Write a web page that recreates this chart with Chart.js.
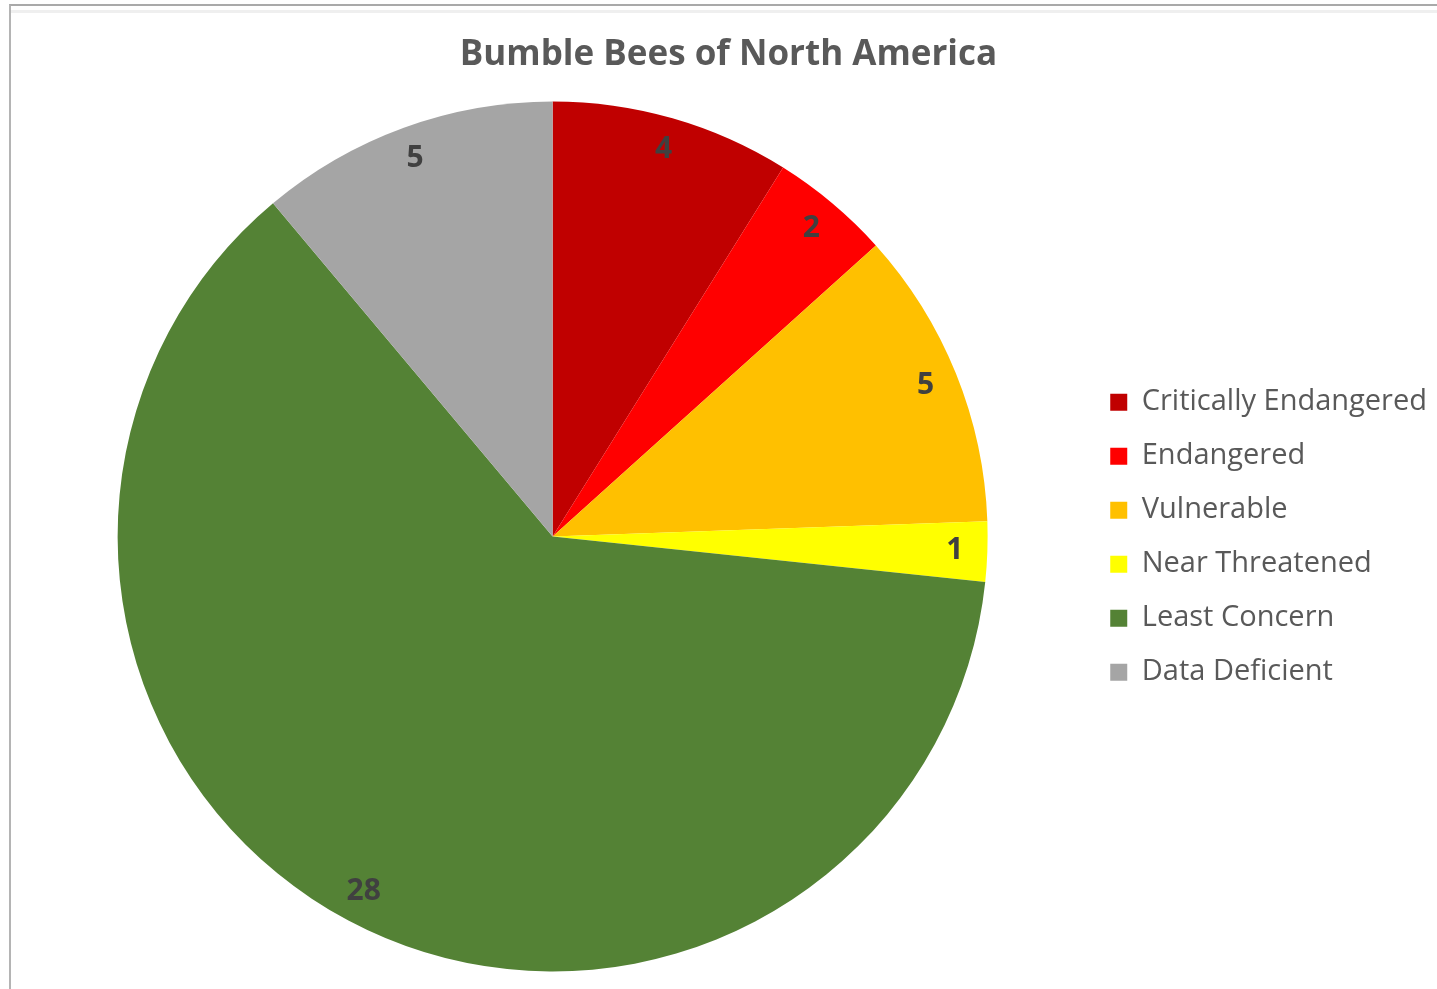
<!DOCTYPE html>
<html>
<head>
<meta charset="utf-8">
<script src="https://cdn.jsdelivr.net/npm/chart.js@4.4.1/dist/chart.umd.min.js"></script>
<style>
  html, body { margin: 0; padding: 0; background: #ffffff; overflow: hidden; }
  #frame { position: absolute; left: 9px; top: 4px; width: 1440px; height: 1000px;
           border-top: 2px solid #a9a9a9; border-left: 2px solid #b4b4b4; }
  #shade { position: absolute; left: 11px; top: 10px; width: 1430px; height: 3px; background: #efefef; }
  #wrap { position: absolute; left: 0; top: 0; width: 1437px; height: 989px; }
</style>
</head>
<body>
<div id="frame"></div>
<div id="shade"></div>
<div id="wrap"><canvas id="c" width="1437" height="989"></canvas></div>
<script>
const chartTitle = "Bumble Bees of North America";
const categories = ["Critically Endangered", "Endangered", "Vulnerable", "Near Threatened", "Least Concern", "Data Deficient"];
const speciesCounts = [4, 2, 5, 1, 28, 5];
const sliceColors = ["#C00000", "#FF0000", "#FFC000", "#FFFF00", "#548235", "#A5A5A5"];

const sliceLabels = {
  id: 'sliceLabels',
  afterDatasetsDraw(chart) {
    const ctx = chart.ctx;
    const meta = chart.getDatasetMeta(0);
    ctx.save();
    ctx.font = "bold 30px 'Open Sans'";
    ctx.fillStyle = "#404040";
    ctx.textAlign = "center";
    ctx.textBaseline = "middle";
    meta.data.forEach((arc, i) => {
      const p = arc.getProps(['x', 'y', 'startAngle', 'endAngle', 'outerRadius'], true);
      const mid = (p.startAngle + p.endAngle) / 2;
      const r = p.outerRadius * 0.925;
      ctx.fillText(String(speciesCounts[i]), p.x + Math.cos(mid) * r, p.y + Math.sin(mid) * r);
    });
    ctx.restore();
  }
};

new Chart(document.getElementById('c'), {
  type: 'pie',
  data: {
    labels: categories,
    datasets: [{
      data: speciesCounts,
      backgroundColor: sliceColors,
      borderWidth: 0,
      radius: 435
    }]
  },
  options: {
    responsive: false,
    animation: false,
    layout: { padding: { left: 20, right: 0, top: 0, bottom: 15 } },
    plugins: {
      title: {
        display: true,
        text: chartTitle,
        color: "#595959",
        font: { family: "'Open Sans'", size: 35, weight: 'bold', lineHeight: 1.2 },
        padding: { top: 34, bottom: 23 }
      },
      legend: {
        position: 'right',
        title: { display: true, text: ' ', font: { size: 12, lineHeight: 1.2 }, padding: { top: 43, bottom: 43 } },
        labels: {
          color: "#595959",
          font: { family: "'Open Sans'", size: 29 },
          boxWidth: 17,
          boxHeight: 17,
          padding: 25
        }
      },
      tooltip: { enabled: false }
    }
  },
  plugins: [sliceLabels]
});
</script>
</body>
</html>
